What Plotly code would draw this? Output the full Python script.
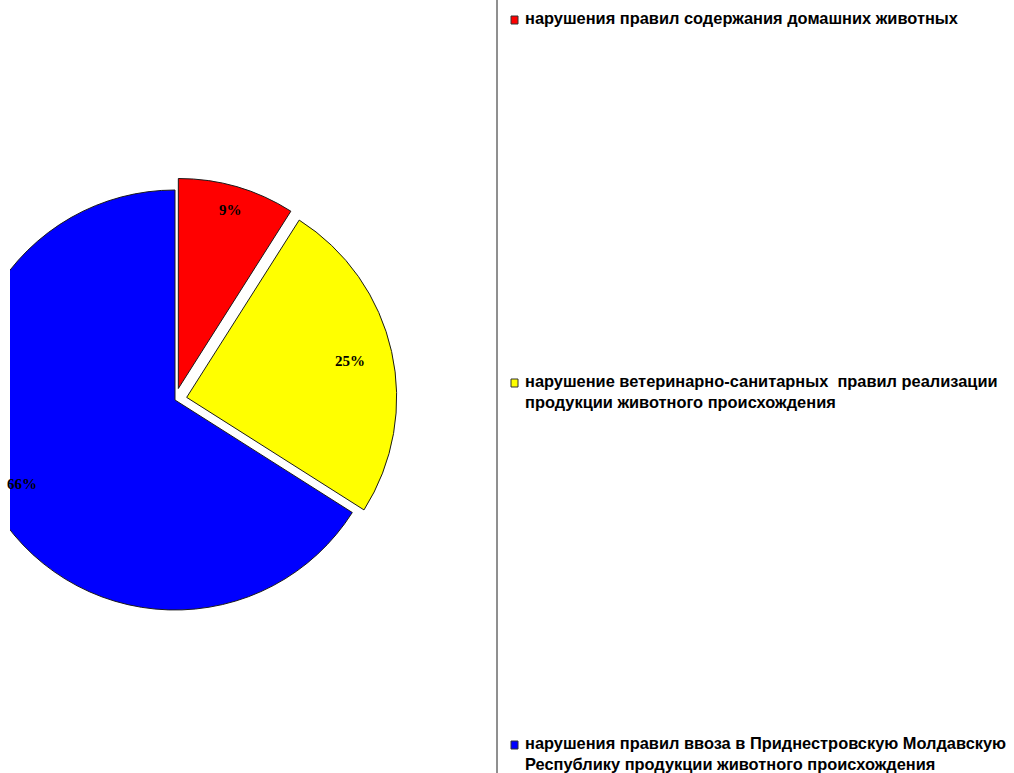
import math
import plotly.graph_objects as go

# ---- data ----
categories = [
    "нарушения правил содержания домашних животных",
    "нарушение ветеринарно-санитарных  правил реализации продукции животного происхождения",
    "нарушения правил ввоза в Приднестровскую Молдавскую Республику продукции животного происхождения",
]
values = [9, 25, 66]
pct_labels = ["9%", "25%", "66%"]
legend_lines = [
    ["нарушения правил содержания домашних животных"],
    ["нарушение ветеринарно-санитарных\u00a0 правил реализации", "продукции животного происхождения"],
    ["нарушения правил ввоза в Приднестровскую Молдавскую", "Республику продукции животного происхождения"],
]
colors = ["#FF0000", "#FFFF00", "#0000FF"]
pulls = [0.057, 0.057, 0.0]

# ---- layout constants (pixels) ----
W, H = 1014, 773
CX, CY, R = 175, 400, 210          # final pie centre / radius
label_r = [0.886, 0.795, 0.83]     # radial position of the % labels (fraction of R)
max_pull = max(pulls)
box = 2 * R * (1 + max_pull)       # plotly: r = box / (2 + 2*maxPull)
dom_cx = box / 2
shift = CX - dom_cx                # pie drawn at dom_cx, moved left to CX
clip_x = 10                        # reference pie is cut at x = 10 px

def px(x):
    return x / W

def py(y):
    return 1 - y / H

fig = go.Figure()
fig.add_trace(go.Pie(
    labels=categories,
    values=values,
    sort=False,
    direction="clockwise",
    rotation=0,
    pull=pulls,
    marker=dict(colors=colors, line=dict(color="#1a1a1a", width=1)),
    textinfo="none",
    hoverinfo="label+percent",
    showlegend=False,
    domain=dict(x=[0, box / W], y=[py(CY + box / 2), py(CY - box / 2)]),
))

annotations = []
shapes = []

# percentage labels placed along each slice's mid-angle
total = sum(values)
cum = 0
for v, lab, pl, lr in zip(values, pct_labels, pulls, label_r):
    mid = (cum + v / 2) / total * 2 * math.pi
    cum += v
    ox = CX + pl * R * math.sin(mid)
    oy = CY - pl * R * math.cos(mid)
    rr = lr * R
    lx = ox + rr * math.sin(mid)
    ly = oy - rr * math.cos(mid)
    annotations.append(dict(
        x=px(lx), y=py(ly), xref="paper", yref="paper", text=lab,
        showarrow=False, xanchor="center", yanchor="middle",
        font=dict(family="Liberation Serif", size=15, color="#000000", weight="bold"),
    ))

# white strip that cuts the pie at the left edge
shapes.append(dict(type="rect", xref="paper", yref="paper",
                   x0=0, x1=px(clip_x), y0=0, y1=1,
                   fillcolor="#FFFFFF", line=dict(width=0), layer="above"))

# divider line
shapes.append(dict(type="line", xref="paper", yref="paper",
                   x0=px(497), x1=px(497), y0=0, y1=1,
                   line=dict(color="#202020", width=1), layer="above"))

# legend (markers + text)
legend_y = [20, 383, 745]
FS = 16.4
for lines, col, yc in zip(legend_lines, colors, legend_y):
    shapes.append(dict(type="rect", xref="paper", yref="paper",
                       x0=px(511), x1=px(518), y0=py(yc + 4), y1=py(yc - 4),
                       fillcolor=col, line=dict(color="#333333", width=1), layer="above"))
    annotations.append(dict(
        x=px(524), y=py(yc - FS * 0.65 - 1), xref="paper", yref="paper",
        text="<br>".join(lines), showarrow=False, xanchor="left", yanchor="top",
        align="left", borderpad=0,
        font=dict(family="Liberation Sans, Arial", size=FS, color="#000000", weight="bold"),
    ))

fig.update_layout(
    width=W, height=H,
    margin=dict(l=0, r=0, t=0, b=0),
    paper_bgcolor="#FFFFFF", plot_bgcolor="#FFFFFF",
    annotations=annotations, shapes=shapes,
    showlegend=False,
)

post = (
    "document.body.style.margin='0';"
    "document.body.style.overflow='hidden';"
    "var gd=document.getElementById('{plot_id}');"
    "var p=gd.querySelector('.pielayer');"
    "if(p){p.setAttribute('transform','translate(%.2f,0)');}" % shift
)
fig.write_html("out.html", post_script=post, config={"displayModeBar": False})
